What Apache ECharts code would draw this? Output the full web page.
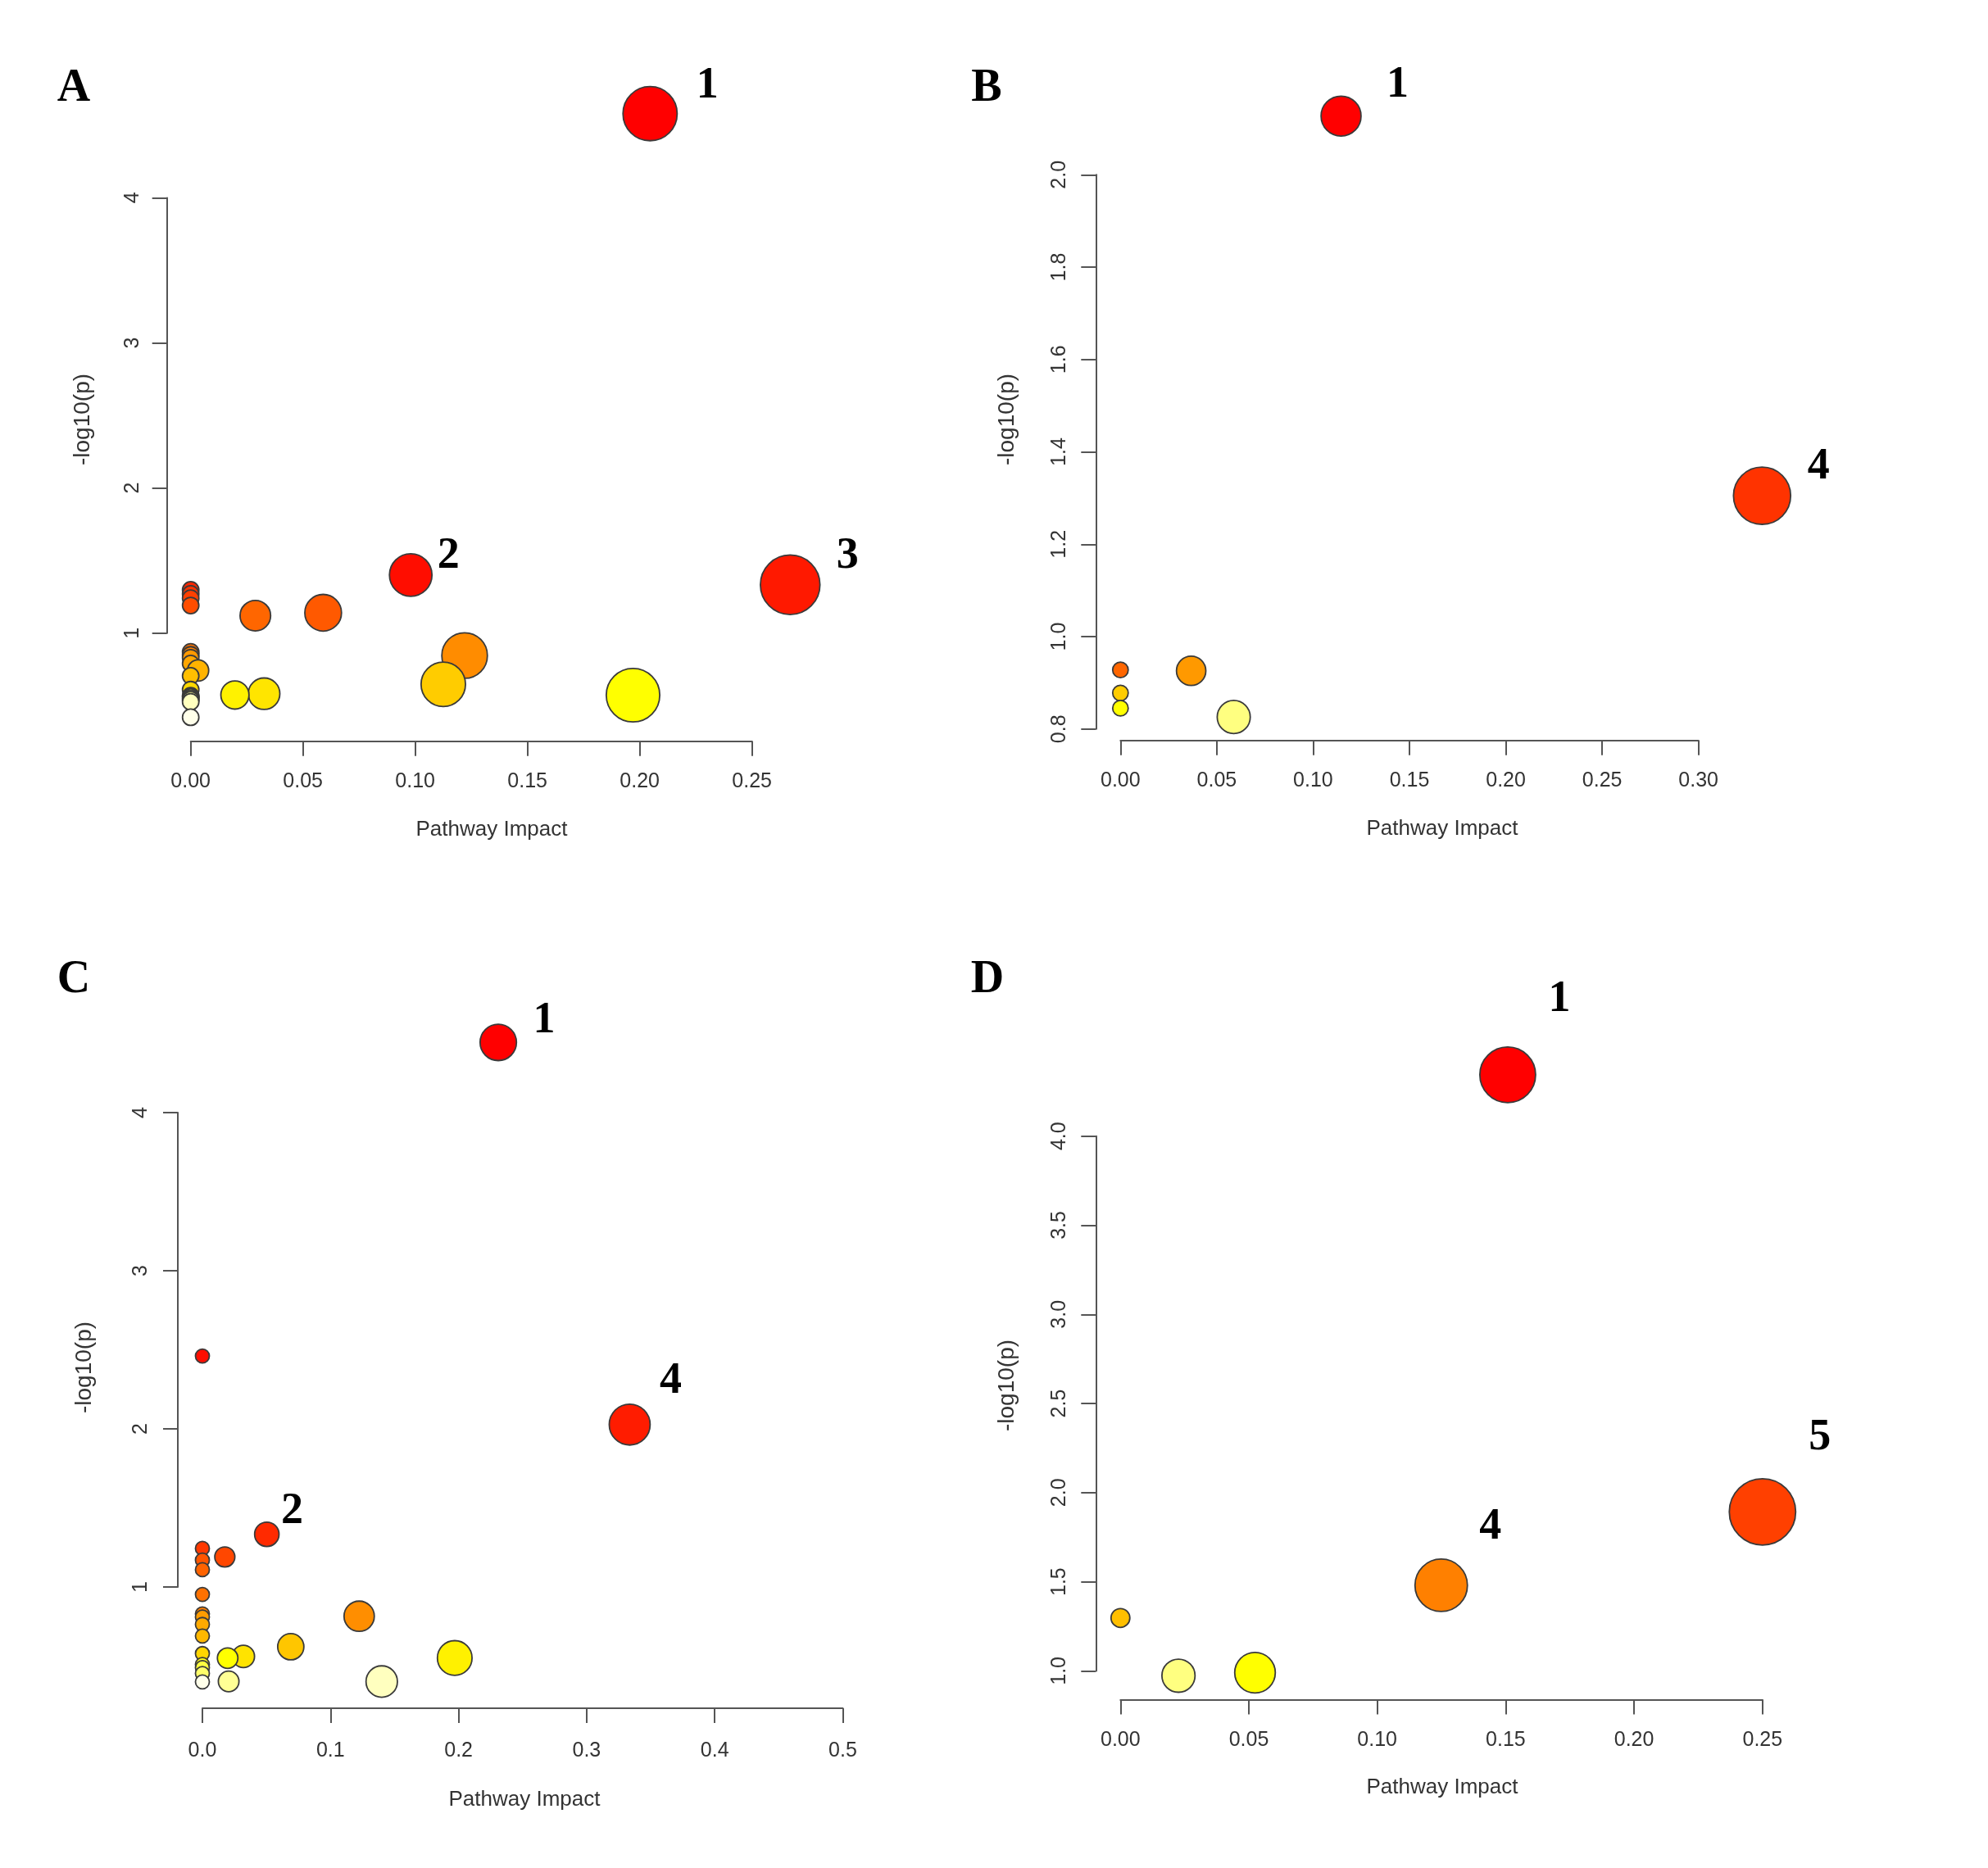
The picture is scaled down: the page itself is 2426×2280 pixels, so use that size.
<!DOCTYPE html>
<html>
<head>
<meta charset="utf-8">
<script src="https://cdn.jsdelivr.net/npm/echarts@6/dist/echarts.min.js"></script>
<style>
  html,body{margin:0;padding:0;background:#fff;}
  #chart{width:2426px;height:2280px;}
</style>
</head>
<body>
<div id="chart"></div>
<script>
/* ---- data: x = pathway impact, y = -log10(p) ---- */

// A
const impactA = [0.2046, 0.098, 0.267, 0, 0, 0, 0, 0.059, 0.0288, 0, 0, 0.122, 0, 0, 0.0033, 0, 0.1125, 0, 0.0327, 0.0197, 0.197, 0, 0, 0, 0, 0, 0];
const logpA   = [4.58, 1.40, 1.333, 1.298, 1.27, 1.24, 1.19, 1.14, 1.12, 0.87, 0.85, 0.845, 0.83, 0.79, 0.742, 0.705, 0.647, 0.61, 0.582, 0.573, 0.572, 0.568, 0.56, 0.55, 0.54, 0.526, 0.42];
const tagsA   = ["1", "2", "3"];
const xTicksA = [0, 0.05, 0.10, 0.15, 0.20, 0.25];
const yTicksA = [1, 2, 3, 4];

// B
const impactB = [0.1145, 0.333, 0, 0.0367, 0, 0, 0.0588];
const logpB   = [2.127, 1.305, 0.928, 0.926, 0.878, 0.845, 0.826];
const tagsB   = ["1", "4"];
const xTicksB = [0, 0.05, 0.10, 0.15, 0.20, 0.25, 0.30];
const yTicksB = [0.8, 1.0, 1.2, 1.4, 1.6, 1.8, 2.0];

// C
const impactC = [0.231, 0, 0.3336, 0.0503, 0, 0.0175, 0, 0, 0, 0, 0.1224, 0, 0, 0, 0.069, 0, 0.032, 0.197, 0.0197, 0, 0, 0, 0.0205, 0.14, 0];
const logpC   = [4.444, 2.461, 2.027, 1.333, 1.244, 1.19, 1.17, 1.109, 0.953, 0.83, 0.815, 0.81, 0.763, 0.69, 0.622, 0.579, 0.561, 0.551, 0.55, 0.51, 0.49, 0.453, 0.403, 0.402, 0.40];
const tagsC   = ["1", "", "4", "2"];
const xTicksC = [0, 0.1, 0.2, 0.3, 0.4, 0.5];
const yTicksC = [1, 2, 3, 4];

// D
const impactD = [0.1508, 0.25, 0.1249, 0, 0.0524, 0.0226];
const logpD   = [4.344, 1.892, 1.48, 1.297, 0.99, 0.973];
const tagsD   = ["1", "5", "4"];
const xTicksD = [0, 0.05, 0.10, 0.15, 0.20, 0.25];
const yTicksD = [1.0, 1.5, 2.0, 2.5, 3.0, 3.5, 4.0];

const xTitle = "Pathway Impact";
const yTitle = "-log10(p)";

/* ---- layout / style ---- */
const panels = [
  {key:"A", x:impactA, y:logpA, tags:tagsA, xt:xTicksA, yt:yTicksA, xd:2, yd:0,
   grid:{left:232.7, top:241.4, width:685, height:531.3}, yOff:29, xOff:132, xLab:37, yLab:29,
   size:[20,102], letter:[90,109], xName:[600,1013], yName:[101,512],
   tagOff:{"1":[70,-34], "2":[46,-23], "3":[70,-35]}},
  {key:"B", x:impactB, y:logpB, tags:tagsB, xt:xTicksB, yt:yTicksB, xd:2, yd:1,
   grid:{left:1367.3, top:213.3, width:705.4, height:676.5}, yOff:30, xOff:14, xLab:37, yLab:32,
   size:[19,88], letter:[1204,109], xName:[1760,1012], yName:[1229,512],
   tagOff:{"1":[69,-38], "4":[69,-35]}},
  {key:"C", x:impactC, y:logpC, tags:tagsC, xt:xTicksC, yt:yTicksC, xd:1, yd:0,
   grid:{left:247, top:1358, width:781.5, height:579}, yOff:30, xOff:148, xLab:40, yLab:32,
   size:[17,57], letter:[90,1197], xName:[640,2197], yName:[103,1669],
   tagOff:{"1":[56,-26], "4":[50,-53], "2":[31,-28]}},
  {key:"D", x:impactD, y:logpD, tags:tagsD, xt:xTicksD, yt:yTicksD, xd:2, yd:1,
   grid:{left:1367.3, top:1386.7, width:783.5, height:652.7}, yOff:30, xOff:35, xLab:37, yLab:32,
   size:[23,116], letter:[1205,1197], xName:[1760,2182], yName:[1229,1691],
   tagOff:{"1":[63,-92], "5":[70,-90], "4":[60,-71]}},
];

const AXIS_COL = "#555", TEXT_COL = "#333";
const SANS = "Liberation Sans", SERIF = "Liberation Serif";

// R heat.colors(n)
function hsvHex(h,s,v){
  const i = Math.floor(h*6), f = h*6 - i;
  const p = v*(1-s), q = v*(1-f*s), t = v*(1-(1-f)*s);
  const rgb = [[v,t,p],[q,v,p],[p,v,t],[p,q,v],[t,p,v],[v,p,q]][i%6];
  return "#" + rgb.map(c=>Math.round(c*255).toString(16).padStart(2,"0")).join("");
}
function heatColors(n){
  const j = Math.floor(n/4), i = n - j, out = [];
  for(let k=0;k<i;k++) out.push(hsvHex(i>1 ? k/(i-1)/6 : 0, 1, 1));
  const s0 = 1 - 1/(2*j), s1 = 1/(2*j);
  for(let k=0;k<j;k++) out.push(hsvHex(1/6, j>1 ? s0+(s1-s0)*k/(j-1) : s0, 1));
  return out;
}

const grids=[], xAxes=[], yAxes=[], series=[], graphics=[];

panels.forEach((p,gi)=>{
  grids.push(Object.assign({containLabel:false}, p.grid));

  xAxes.push({
    gridIndex:gi, type:"value", position:"bottom", offset:p.xOff,
    min:p.xt[0], max:p.xt[p.xt.length-1], interval:p.xt[1]-p.xt[0],
    axisLine:{show:true, onZero:false, lineStyle:{color:AXIS_COL, width:2}},
    axisTick:{show:true, length:18, lineStyle:{color:AXIS_COL, width:2}},
    axisLabel:{margin:p.xLab, fontSize:25, fontFamily:SANS, color:TEXT_COL,
               formatter:v=>v.toFixed(p.xd)},
    splitLine:{show:false}
  });
  yAxes.push({
    gridIndex:gi, type:"value", position:"left", offset:p.yOff,
    min:p.yt[0], max:p.yt[p.yt.length-1], interval:+(p.yt[1]-p.yt[0]).toFixed(3),
    axisLine:{show:true, onZero:false, lineStyle:{color:AXIS_COL, width:2}},
    axisTick:{show:true, length:18, lineStyle:{color:AXIS_COL, width:2}},
    axisLabel:{margin:p.yLab, fontSize:25, fontFamily:SANS, color:TEXT_COL, rotate:90,
               formatter:v=>v.toFixed(p.yd)},
    splitLine:{show:false}
  });

  // most significant first, so paler circles sit on top (as in the figure)
  const n = p.x.length;
  const order = [...Array(n).keys()].sort((a,b)=>p.y[b]-p.y[a]);
  const pal = heatColors(n);
  const data = order.map((k,rank)=>{
    const item = {
      value:[p.x[k], p.y[k]],
      symbolSize: p.size[0] + p.size[1]*Math.sqrt(p.x[k]),
      itemStyle:{color:pal[rank]}
    };
    const tag = p.tags[k];
    if(tag){
      item.label = {show:true, position:"inside", offset:p.tagOff[tag], formatter:tag,
        fontFamily:SERIF, fontWeight:"bold", fontSize:54, color:"#000"};
    }
    return item;
  });

  series.push({
    type:"scatter", xAxisIndex:gi, yAxisIndex:gi, clip:false, silent:true,
    itemStyle:{borderColor:"#3a3a3a", borderWidth:1.8, opacity:1},
    label:{show:false},
    data
  });

  graphics.push(
    {type:"text", x:p.letter[0], y:p.letter[1],
     style:{text:p.key, x:0, y:0, font:"bold 56px '"+SERIF+"'", fill:"#000",
            textAlign:"center", textVerticalAlign:"middle", align:"center", verticalAlign:"middle"}},
    {type:"text", x:p.xName[0], y:p.xName[1],
     style:{text:xTitle, x:0, y:0, font:"26px '"+SANS+"'", fill:TEXT_COL,
            textAlign:"center", textVerticalAlign:"middle", align:"center", verticalAlign:"middle"}},
    {type:"text", x:p.yName[0], y:p.yName[1], rotation:Math.PI/2,
     style:{text:yTitle, x:0, y:0, font:"28px '"+SANS+"'", fill:TEXT_COL,
            textAlign:"center", textVerticalAlign:"middle", align:"center", verticalAlign:"middle"}}
  );
});

const chart = echarts.init(document.getElementById("chart"), null, {renderer:"canvas"});
chart.setOption({
  animation:false,
  backgroundColor:"#fff",
  grid:grids, xAxis:xAxes, yAxis:yAxes, series,
  graphic:{elements:graphics}
});
</script>
</body>
</html>
